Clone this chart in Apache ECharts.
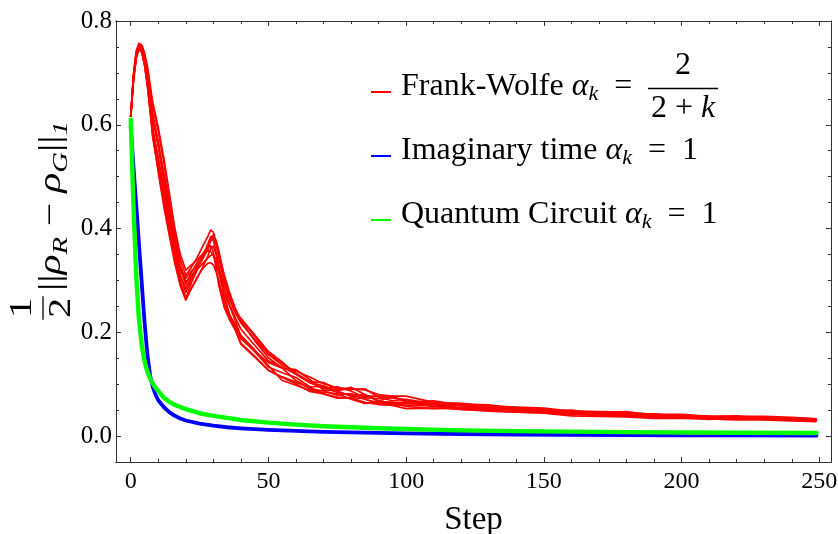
<!DOCTYPE html>
<html>
<head>
<meta charset="utf-8">
<script src="https://cdn.jsdelivr.net/npm/echarts@6/dist/echarts.min.js"></script>
<style>
html,body{margin:0;padding:0;background:#fff;}
#chart{width:838px;height:534px;}
</style>
</head>
<body>
<div id="chart"></div>
<script>
// Trace distance vs. step for three update schemes (several runs each).
const fwSteps = [0,1,2,3,4,5,6,8,10,12,14,16,18,20,22,24,26,28,29,30,31,32,34,36,38,40,45,50,55,60,65,70,75,80,85,90,95,100,110,120,130,140,150,160,170,180,190,200,210,220,230,240,249];
const fwRun1 = [0.615,0.684,0.730,0.754,0.751,0.735,0.710,0.635,0.588,0.528,0.463,0.395,0.340,0.310,0.325,0.343,0.364,0.385,0.397,0.393,0.373,0.344,0.295,0.263,0.237,0.218,0.187,0.157,0.137,0.125,0.114,0.101,0.093,0.091,0.089,0.080,0.077,0.077,0.065,0.063,0.058,0.056,0.054,0.048,0.047,0.046,0.042,0.042,0.038,0.038,0.038,0.036,0.033];
const fwRun2 = [0.615,0.698,0.743,0.756,0.743,0.717,0.680,0.575,0.514,0.450,0.395,0.340,0.298,0.267,0.285,0.305,0.322,0.333,0.334,0.330,0.317,0.300,0.255,0.227,0.206,0.179,0.154,0.127,0.113,0.101,0.086,0.081,0.075,0.073,0.065,0.061,0.059,0.053,0.054,0.052,0.048,0.046,0.044,0.039,0.038,0.037,0.034,0.034,0.033,0.031,0.031,0.029,0.028];
const fwRun3 = [0.615,0.693,0.735,0.752,0.748,0.731,0.703,0.620,0.568,0.503,0.437,0.371,0.326,0.304,0.318,0.327,0.340,0.360,0.377,0.385,0.377,0.357,0.305,0.269,0.240,0.221,0.184,0.151,0.131,0.128,0.109,0.089,0.087,0.094,0.080,0.067,0.077,0.065,0.068,0.059,0.052,0.055,0.048,0.050,0.044,0.047,0.039,0.041,0.037,0.039,0.034,0.035,0.031];
const fwRun4 = [0.615,0.686,0.727,0.745,0.739,0.715,0.677,0.585,0.535,0.476,0.411,0.343,0.292,0.264,0.295,0.319,0.342,0.363,0.367,0.355,0.323,0.290,0.247,0.223,0.204,0.177,0.152,0.127,0.114,0.104,0.094,0.081,0.073,0.074,0.072,0.061,0.060,0.059,0.058,0.051,0.050,0.051,0.046,0.041,0.043,0.039,0.035,0.038,0.034,0.035,0.032,0.033,0.029];
const fwRun5 = [0.615,0.694,0.738,0.757,0.754,0.739,0.715,0.643,0.595,0.536,0.469,0.401,0.350,0.320,0.330,0.339,0.350,0.365,0.376,0.380,0.370,0.352,0.310,0.275,0.246,0.224,0.193,0.159,0.140,0.121,0.105,0.103,0.090,0.090,0.091,0.075,0.068,0.071,0.062,0.061,0.060,0.053,0.052,0.045,0.045,0.043,0.043,0.038,0.038,0.037,0.034,0.035,0.033];
const fwRun6 = [0.615,0.690,0.732,0.750,0.741,0.718,0.683,0.580,0.508,0.443,0.387,0.333,0.290,0.262,0.284,0.303,0.324,0.347,0.362,0.366,0.351,0.324,0.269,0.233,0.214,0.194,0.166,0.136,0.107,0.098,0.088,0.084,0.082,0.071,0.063,0.066,0.065,0.057,0.053,0.055,0.050,0.046,0.046,0.043,0.039,0.041,0.037,0.036,0.032,0.035,0.032,0.031,0.031];
const fwRun7 = [0.615,0.692,0.737,0.752,0.747,0.729,0.700,0.613,0.558,0.492,0.427,0.361,0.310,0.284,0.307,0.325,0.344,0.367,0.382,0.388,0.375,0.348,0.297,0.265,0.240,0.227,0.195,0.163,0.143,0.119,0.103,0.092,0.095,0.087,0.074,0.072,0.074,0.068,0.060,0.059,0.058,0.049,0.048,0.047,0.045,0.039,0.039,0.040,0.036,0.033,0.036,0.033,0.031];
const fwRun8 = [0.615,0.687,0.729,0.748,0.743,0.725,0.691,0.595,0.535,0.470,0.417,0.365,0.322,0.292,0.315,0.333,0.350,0.357,0.356,0.348,0.333,0.314,0.275,0.250,0.222,0.192,0.163,0.133,0.122,0.113,0.095,0.095,0.084,0.079,0.080,0.067,0.065,0.065,0.057,0.055,0.054,0.051,0.046,0.047,0.041,0.041,0.041,0.036,0.036,0.035,0.036,0.031,0.031];
const fwRun9 = [0.615,0.691,0.733,0.751,0.745,0.727,0.699,0.615,0.562,0.508,0.449,0.383,0.328,0.297,0.310,0.320,0.332,0.343,0.348,0.350,0.340,0.327,0.285,0.253,0.228,0.206,0.175,0.145,0.133,0.119,0.103,0.097,0.087,0.077,0.077,0.077,0.074,0.070,0.058,0.059,0.055,0.050,0.051,0.044,0.044,0.039,0.040,0.039,0.035,0.036,0.033,0.034,0.030];
const fwRun10 = [0.615,0.688,0.737,0.753,0.742,0.720,0.687,0.590,0.528,0.463,0.405,0.350,0.308,0.277,0.302,0.323,0.345,0.370,0.384,0.378,0.355,0.326,0.265,0.231,0.210,0.188,0.163,0.142,0.131,0.107,0.091,0.087,0.079,0.082,0.071,0.064,0.063,0.062,0.063,0.053,0.052,0.053,0.045,0.046,0.040,0.043,0.037,0.037,0.038,0.033,0.035,0.032,0.030];

const unitSteps = [0,1,2,3,4,5,6,7,8,9,10,12,14,16,18,20,25,30,35,40,50,60,70,80,90,100,120,140,160,180,200,220,249];
const imagTime = [0.596,0.520,0.445,0.370,0.295,0.222,0.160,0.118,0.095,0.080,0.069,0.056,0.046,0.039,0.034,0.030,0.024,0.020,0.017,0.015,0.012,0.010,0.008,0.007,0.006,0.005,0.004,0.003,0.0025,0.002,0.0015,0.0012,0.001];
const quantumCircuit = [0.610,0.445,0.310,0.224,0.175,0.145,0.125,0.111,0.101,0.093,0.087,0.074,0.066,0.060,0.056,0.052,0.044,0.039,0.035,0.031,0.026,0.022,0.019,0.017,0.015,0.0135,0.011,0.0095,0.0085,0.0075,0.007,0.0065,0.006];

const xTicks = [0,50,100,150,200,250];
const xMinorTicks = [10,20,30,40,60,70,80,90,110,120,130,140,160,170,180,190,210,220,230,240];
const yTicks = [0,0.2,0.4,0.6,0.8];
const yMinorTicks = [0.05,0.1,0.15,0.25,0.3,0.35,0.45,0.5,0.55,0.65,0.7,0.75];

const X_MIN = -5.34, X_MAX = 254.25, Y_MIN = -0.05, Y_MAX = 0.8;
const SERIF = '"Liberation Serif","Times New Roman",serif';
const FRAME = '#333';

function zip(xs, ys) { return xs.map((x, i) => [x, ys[i]]); }

function xAxisDef(position, ticks, len, withLabels) {
  return {
    type: 'value', gridIndex: 0, position: position, min: X_MIN, max: X_MAX,
    axisLine: { show: true, onZero: false, lineStyle: { color: FRAME, width: 1 } },
    axisTick: { show: true, inside: true, length: len, customValues: ticks, lineStyle: { color: FRAME, width: 1 } },
    axisLabel: { show: withLabels, customValues: ticks, margin: 8, color: '#000', fontFamily: SERIF, fontSize: 24 },
    splitLine: { show: false }
  };
}
function yAxisDef(position, ticks, len, withLabels) {
  return {
    type: 'value', gridIndex: 0, position: position, min: Y_MIN, max: Y_MAX,
    axisLine: { show: true, onZero: false, lineStyle: { color: FRAME, width: 1 } },
    axisTick: { show: true, inside: true, length: len, customValues: ticks, lineStyle: { color: FRAME, width: 1 } },
    axisLabel: { show: withLabels, customValues: ticks, margin: 4, color: '#000', fontFamily: SERIF, fontSize: 25,
                 formatter: v => v.toFixed(1) },
    splitLine: { show: false }
  };
}

const fwRuns = [fwRun1, fwRun2, fwRun3, fwRun4, fwRun5, fwRun6, fwRun7, fwRun8, fwRun9, fwRun10];
const series = [];
fwRuns.forEach(run => series.push({
  name: 'Frank-Wolfe', type: 'line', data: zip(fwSteps, run), showSymbol: false, symbol: 'none',
  color: '#ff0000', lineStyle: { color: '#ff0000', width: 1.7, join: 'round' }, z: 2
}));
series.push({
  name: 'Imaginary time', type: 'line', data: zip(unitSteps, imagTime), showSymbol: false, symbol: 'none',
  color: '#0000ff', lineStyle: { color: '#0000ff', width: 3.8, join: 'round', cap: 'round' }, z: 3
});
series.push({
  name: 'Quantum Circuit', type: 'line', data: zip(unitSteps, quantumCircuit), showSymbol: false, symbol: 'none',
  color: '#00ff00', lineStyle: { color: '#00ff00', width: 4.4, join: 'round', cap: 'round' }, z: 4
});

const legendLabels = {
  'Frank-Wolfe': '{t|Frank-Wolfe }{m|α}{s|k}{t|\u2002=}',
  'Imaginary time': '{t|Imaginary time }{m|α}{s|k}{t|\u2002=\u20021}',
  'Quantum Circuit': '{t|Quantum Circuit }{m|α}{s|k}{t|\u2002=\u20021}'
};

const chart = echarts.init(document.getElementById('chart'), null, { renderer: 'canvas' });
chart.setOption({
  animation: false,
  backgroundColor: '#fff',
  grid: { left: 116, top: 21, width: 715, height: 441, containLabel: false, outerBoundsMode: 'none' },
  xAxis: [
    Object.assign(xAxisDef('bottom', xTicks, 5, true), {
      name: 'Step', nameLocation: 'middle', nameGap: 42,
      nameTextStyle: { color: '#000', fontFamily: SERIF, fontSize: 33 }
    }),
    xAxisDef('bottom', xMinorTicks, 3, false),
    xAxisDef('top', xTicks, 5, false),
    xAxisDef('top', xMinorTicks, 3, false)
  ],
  yAxis: [
    yAxisDef('left', yTicks, 5, true),
    yAxisDef('left', yMinorTicks, 3, false),
    yAxisDef('right', yTicks, 5, false),
    yAxisDef('right', yMinorTicks, 3, false)
  ],
  legend: {
    data: ['Frank-Wolfe', 'Imaginary time', 'Quantum Circuit'],
    orient: 'vertical', left: 366, top: 66,
    icon: 'rect', itemWidth: 20, itemHeight: 2, itemGap: 30,
    selectedMode: false,
    formatter: name => legendLabels[name],
    textStyle: {
      color: '#000', fontFamily: SERIF, fontSize: 32, padding: [0, 0, 10, 5],
      rich: {
        t: { fontFamily: SERIF, fontSize: 32, lineHeight: 36, color: '#000' },
        m: { fontFamily: SERIF, fontSize: 32, fontStyle: 'italic', lineHeight: 36, color: '#000' },
        s: { fontFamily: SERIF, fontSize: 22, fontStyle: 'italic', lineHeight: 22, verticalAlign: 'bottom', color: '#000' }
      }
    }
  },
  graphic: [
    // fraction 2/(2+k) of the Frank-Wolfe step size
    { type: 'text', x: 683, y: 66, silent: true,
      style: { text: '2', fill: '#000', font: '32px ' + SERIF, textAlign: 'center', textVerticalAlign: 'middle' } },
    { type: 'line', silent: true, shape: { x1: 648, y1: 88.5, x2: 718, y2: 88.5 }, style: { stroke: '#000', lineWidth: 1.3 } },
    { type: 'text', x: 683, y: 109, silent: true,
      style: { text: '{t|2 + }{m|k}', fill: '#000', textAlign: 'center', textVerticalAlign: 'middle',
               rich: { t: { fontFamily: SERIF, fontSize: 32, fill: '#000' }, m: { fontFamily: SERIF, fontSize: 32, fontStyle: 'italic', fill: '#000' } } } },
    // rotated y-axis title: (1/2) ||rho_R - rho_G||_1, stretched along its reading direction
    { type: 'group', x: 43, y: 308, rotation: Math.PI / 2, scaleX: 1.3, silent: true,
      children: [
        { type: 'text', x: 0, y: -20, style: { text: '1', fill: '#000', font: '31px ' + SERIF, textAlign: 'center', textVerticalAlign: 'middle' } },
        { type: 'line', shape: { x1: -9, y1: 0, x2: 9, y2: 0 }, style: { stroke: '#000', lineWidth: 1.3 } },
        { type: 'text', x: 0, y: 19, style: { text: '2', fill: '#000', font: '31px ' + SERIF, textAlign: 'center', textVerticalAlign: 'middle' } },
        { type: 'text', x: 13, y: 9, style: {
            text: '{b|||}{r|ρ}{s|R}{b| − }{r|ρ}{s|G}{b|||}{s|1}',
            fill: '#000', textAlign: 'left', textVerticalAlign: 'middle',
            rich: {
              b: { fontFamily: SERIF, fontSize: 32, lineHeight: 40, fill: '#000' },
              r: { fontFamily: SERIF, fontSize: 32, fontStyle: 'italic', lineHeight: 40, fill: '#000' },
              s: { fontFamily: SERIF, fontSize: 22, fontStyle: 'italic', lineHeight: 22, verticalAlign: 'bottom', fill: '#000' }
            } } }
      ] }
  ],
  series: series
});
</script>
</body>
</html>
